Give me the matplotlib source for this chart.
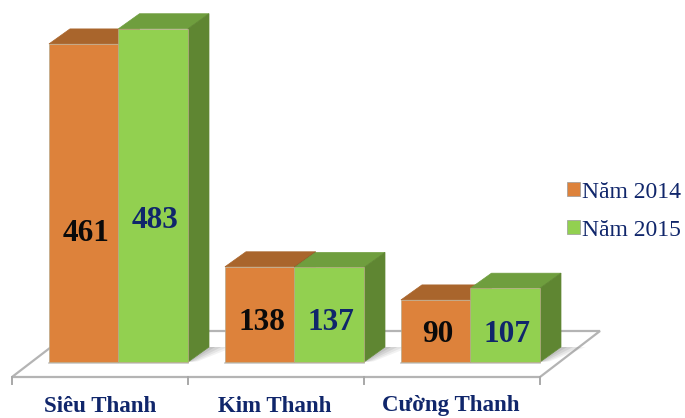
import matplotlib
matplotlib.use('Agg')
import matplotlib.pyplot as plt
from matplotlib.patches import Polygon, Patch

# Data
cities = ['Siêu Thanh', 'Kim Thanh', 'Cường Thanh']
years = ['Năm 2014', 'Năm 2015']
values_2014 = [461, 138, 90]
values_2015 = [483, 137, 107]

front_colors = ['#dd823b', '#92d050']
top_colors = ['#a9652c', '#6f9e3e']
side_colors = ['#8f5626', '#5f8632']
label_colors = ['#0a0a0a', '#10266b']
navy = '#10266b'

# where the value labels sit, pixels from the top (not centred in the bars)
label_y_px = [[233, 322, 334], [220, 322, 334]]
city_x_px = [100, 275, 451]

plt.rcParams['font.family'] = ['Liberation Serif', 'DejaVu Serif']

W, H = 685, 418
PX_X = 176.0    # pixels per category
PX_Y = 0.69     # pixels per value unit
X0, Y0 = 12, 362

fig = plt.figure(figsize=(W / 100, H / 100), dpi=100)
ax = fig.add_axes([0, 0, 1, 1])
ax.set_xlim(-X0 / PX_X, (W - X0) / PX_X)
ax.set_ylim(-(H - Y0) / PX_Y, Y0 / PX_Y)
ax.axis('off')

# depth of the 3d effect, in axis units
dx = 21 / PX_X
dy = 15 / PX_Y
n = len(cities)

# floor
fdx = 60 / PX_X
fy0 = -15 / PX_Y
fy1 = 31 / PX_Y
ax.add_patch(Polygon([(0, fy0), (n, fy0), (n + fdx, fy1), (fdx, fy1)], closed=True,
                     facecolor='white', edgecolor='#b4b4b4', lw=1.6, zorder=1))
for i in range(n + 1):
    ax.plot([i, i], [fy0, fy0 - 7 / PX_Y], color='#a8a8a8', lw=1.4, zorder=1)

bar_w = 0.395
series = [values_2014, values_2015]


def draw_bar(x, val, k, z):
    x1 = x + bar_w
    ax.bar(x, val, width=bar_w, align='edge', color=front_colors[k],
           edgecolor='#b9a98a', linewidth=0.5, zorder=z + 0.2)
    ax.add_patch(Polygon([(x, val), (x1, val), (x1 + dx, val + dy), (x + dx, val + dy)],
                         closed=True, facecolor=top_colors[k], edgecolor=top_colors[k], lw=0.5, zorder=z))
    ax.add_patch(Polygon([(x1, 0), (x1 + dx, dy), (x1 + dx, val + dy), (x1, val)],
                         closed=True, facecolor=side_colors[k], edgecolor=side_colors[k], lw=0.5, zorder=z + 0.1))


for i in range(n):
    x_end = i + 1
    x_start = x_end - 2 * bar_w
    # soft shadow on the floor, right of the group
    for j, a in enumerate([0.10, 0.12, 0.16, 0.2]):
        reach = (1 - j / 4) * 0.14
        ax.add_patch(Polygon([(x_end, 0), (x_end + dx, dy), (x_end + dx + reach, dy), (x_end + reach * 0.4, 1)],
                             closed=True, facecolor='#808080', alpha=a, lw=0, zorder=1.5))
    ax.plot([x_start, x_end], [-1, -1], color='#c8c8c8', lw=1.2, zorder=1.6)
    for k in range(2):
        x = x_start + k * bar_w
        val = series[k][i]
        draw_bar(x, val, k, 2 + i + k * 0.5)
        ax.text(x + bar_w / 2 + 2 / PX_X, (Y0 - label_y_px[k][i]) / PX_Y, str(val), ha='center', va='center',
                fontsize=22.5, fontweight='bold', color=label_colors[k], zorder=10)
    ax.text((city_x_px[i] - X0) / PX_X, fy0 - 29 / PX_Y, cities[i], ha='center', va='center',
            fontsize=16.5, fontweight='bold', color=navy, zorder=10)

handles = [Patch(facecolor=front_colors[k], edgecolor='#9a9a9a', lw=0.5) for k in range(2)]
leg = ax.legend(handles, years, loc='center left', bbox_to_anchor=(567 / W, 1 - 211 / H),
                frameon=False, fontsize=17, handlelength=0.55, handleheight=0.55,
                handletextpad=0.1, labelspacing=0.72, borderpad=0, borderaxespad=0, labelcolor=navy)

fig.savefig('out.png', dpi=100, facecolor='white')
